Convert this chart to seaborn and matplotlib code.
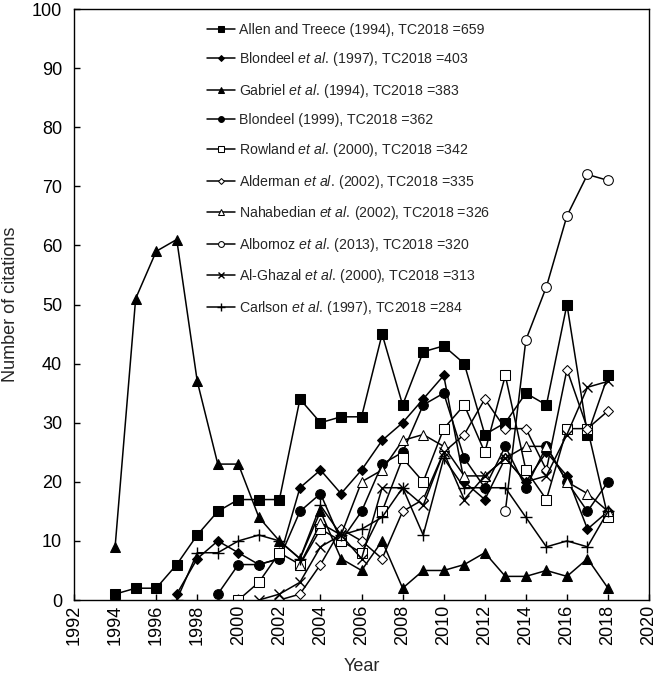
import numpy as np
import pandas as pd
import matplotlib
matplotlib.use("Agg")
import matplotlib.pyplot as plt
import seaborn as sns

years = list(range(1994, 2019))

allen = [1, 2, 2, 6, 11, 15, 17, 17, 17, 34, 30, 31, 31, 45, 33, 42, 43, 40, 28, 30, 35, 33, 50, 28, 38]
blondeel97 = [None, None, None, 1, 7, 10, 8, 6, 7, 19, 22, 18, 22, 27, 30, 34, 38, 20, 17, 24, 20, 25, 21, 12, 15]
gabriel = [9, 51, 59, 61, 37, 23, 23, 14, 10, 7, 15, 7, 5, 10, 2, 5, 5, 6, 8, 4, 4, 5, 4, 7, 2]
blondeel99 = [None, None, None, None, None, 1, 6, 6, 7, 15, 18, 10, 15, 23, 25, 33, 35, 24, 19, 26, 19, 26, 20, 15, 20]
rowland = [None, None, None, None, None, None, 0, 3, 8, 6, 12, 10, 8, 15, 24, 20, 29, 33, 25, 38, 22, 17, 29, 29, 14]
alderman = [None, None, None, None, None, None, None, None, 0, 1, 6, 12, 10, 7, 15, 17, 25, 28, 34, 29, 29, 22, 39, 29, 32]
nahabedian = [None, None, None, None, None, None, None, None, None, 6, 13, 11, 20, 22, 27, 28, 26, 21, 21, 24, 26, 26, 20, 18, 15]
albornoz = [None] * 19 + [15, 44, 53, 65, 72, 71]
alghazal = [None, None, None, None, None, None, None, 0, 1, 3, 9, 11, 7, 19, 19, 16, 25, 17, 21, 24, 20, 21, 28, 36, 37]
carlson = [None, None, None, 0, 8, 8, 10, 11, 10, 7, 16, 11, 12, 14, 19, 11, 24, 19, 19, 19, 14, 9, 10, 9, 15]

labels = [
    "Allen and Treece (1994), TC2018 =659",
    "Blondeel $\\it{et\\ al.}\\,$(1997), TC2018 =403",
    "Gabriel $\\it{et\\ al.}\\,$(1994), TC2018 =383",
    "Blondeel (1999), TC2018 =362",
    "Rowland $\\it{et\\ al.}\\,$(2000), TC2018 =342",
    "Alderman $\\it{et\\ al.}\\,$(2002), TC2018 =335",
    "Nahabedian $\\it{et\\ al.}\\,$(2002), TC2018 =326",
    "Albornoz $\\it{et\\ al.}\\,$(2013), TC2018 =320",
    "Al-Ghazal $\\it{et\\ al.}\\,$(2000), TC2018 =313",
    "Carlson $\\it{et\\ al.}\\,$(1997), TC2018 =284",
]
series = [allen, blondeel97, gabriel, blondeel99, rowland, alderman,
          nahabedian, albornoz, alghazal, carlson]

styles = [
    dict(marker="s", markersize=7, markerfacecolor="black"),
    dict(marker="D", markersize=5, markerfacecolor="black"),
    dict(marker="^", markersize=7, markerfacecolor="black"),
    dict(marker="o", markersize=7, markerfacecolor="black"),
    dict(marker="s", markersize=7, markerfacecolor="white"),
    dict(marker="D", markersize=5, markerfacecolor="white"),
    dict(marker="^", markersize=7, markerfacecolor="white"),
    dict(marker="o", markersize=7, markerfacecolor="white"),
    dict(marker="x", markersize=7, markerfacecolor="black", markeredgewidth=1.0),
    dict(marker="+", markersize=9, markerfacecolor="black", markeredgewidth=1.0),
]

rows = []
for lab, vals in zip(labels, series):
    for y, v in zip(years, vals):
        if v is not None:
            rows.append((lab, y, v))
df = pd.DataFrame(rows, columns=["Study", "Year", "Citations"])

sns.set_theme(style="ticks")
plt.rcParams["font.family"] = ["Liberation Sans", "DejaVu Sans"]
plt.rcParams["mathtext.fontset"] = "custom"
plt.rcParams["mathtext.it"] = "Liberation Sans:italic"
plt.rcParams["mathtext.rm"] = "Liberation Sans"

fig = plt.figure(figsize=(6.61, 6.77), dpi=100)
ax = fig.add_axes([0.112, 0.1137, 0.870, 0.873])

for lab, st in zip(labels, styles):
    sub = df[df["Study"] == lab]
    sns.lineplot(data=sub, x="Year", y="Citations", ax=ax, color="black",
                 linewidth=1.1, markeredgecolor="black", label=lab, **st)

ax.set_xlim(1992, 2020)
ax.set_ylim(0, 100)
ax.set_xticks(range(1992, 2021, 2))
ax.set_yticks(range(0, 101, 10))
ax.tick_params(axis="both", direction="in", length=4, width=1, labelsize=13, colors="black")
ax.tick_params(axis="x", labelrotation=90, pad=3.6)
ax.tick_params(axis="y", pad=8.6)
for s in ax.spines.values():
    s.set_visible(True)
    s.set_color("black")
    s.set_linewidth(1.0)
ax.set_xlabel("Year", fontsize=13)
ax.set_ylabel("Number of citations", fontsize=13)
ax.xaxis.set_label_coords(0.5, -0.098)
ax.yaxis.set_label_coords(-0.0957, 0.5)

ax.legend(loc="upper left", bbox_to_anchor=(0.231, 0.977), frameon=False,
          fontsize=10.2, labelspacing=0.96, handlelength=2.0, handletextpad=0.3,
          borderpad=0, borderaxespad=0, markerscale=0.6)

fig.savefig("out.png", dpi=100)
